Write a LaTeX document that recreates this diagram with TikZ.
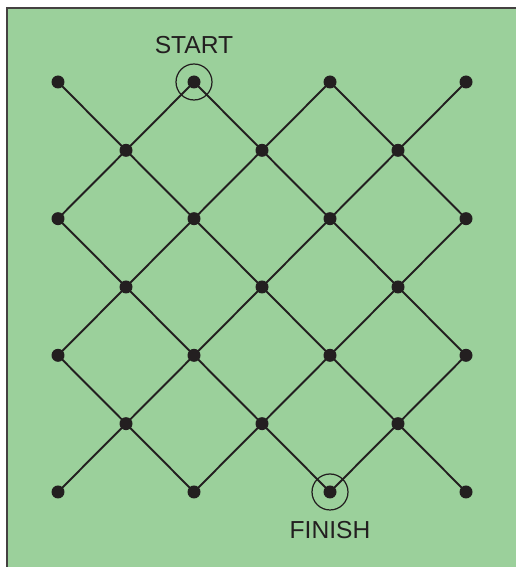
\documentclass[tikz,border=0pt]{standalone}
\usepackage{fontspec}
\setmainfont{Liberation Sans}
\usetikzlibrary{positioning}
\definecolor{boardgreen}{RGB}{155,208,155}
\definecolor{ink}{RGB}{35,31,32}
\tikzset{
  dot/.style={circle,fill=ink,inner sep=0pt,minimum size=0.26cm},
  ring/.style={circle,draw=ink,line width=0.7pt,inner sep=0pt,minimum size=0.72cm},
  edge/.style={draw=ink,line width=1.1pt},
  caption/.style={inner sep=0pt,text=ink,font=\fontsize{14}{16}\selectfont}
}

\begin{document}
\begin{tikzpicture}[x=0.02cm,y=-0.02cm]
			\useasboundingbox (0,0) rectangle (515,567);
			\fill[white] (0,0) rectangle (515,567);
			\draw[fill=boardgreen,draw=ink!85,line width=1.1pt] (7,8) rectangle (530,580);
			% lattice points
			\foreach \i in {0,...,6}
				\foreach \j in {0,...,6}{
					\pgfmathtruncatemacro{\parity}{mod(\i+\j,2)}
					\ifnum\parity=0
						\node[dot] (p-\i-\j) at ({58+68*\i},{82+68.33*\j}) {};
					\fi
				}
			% diagonal links
			\foreach \i in {0,...,5}
				\foreach \j in {0,...,6}{
					\pgfmathtruncatemacro{\parity}{mod(\i+\j,2)}
					\pgfmathtruncatemacro{\k}{\i+1}
					\pgfmathtruncatemacro{\dn}{\j+1}
					\pgfmathtruncatemacro{\up}{\j-1}
					\ifnum\parity=0
						\ifnum\j<6 \draw[edge] (p-\i-\j.center) -- (p-\k-\dn.center); \fi
						\ifnum\j>0 \draw[edge] (p-\i-\j.center) -- (p-\k-\up.center); \fi
					\fi
				}
			\node[ring] (start) at (p-2-0) {};
			\node[ring] (finish) at (p-4-6) {};
			\node[caption,above=0.18cm of start] (startlabel) {START};
			\node[caption,below=0.2cm of finish] (finishlabel) {FINISH};
		\end{tikzpicture}
\end{document}
